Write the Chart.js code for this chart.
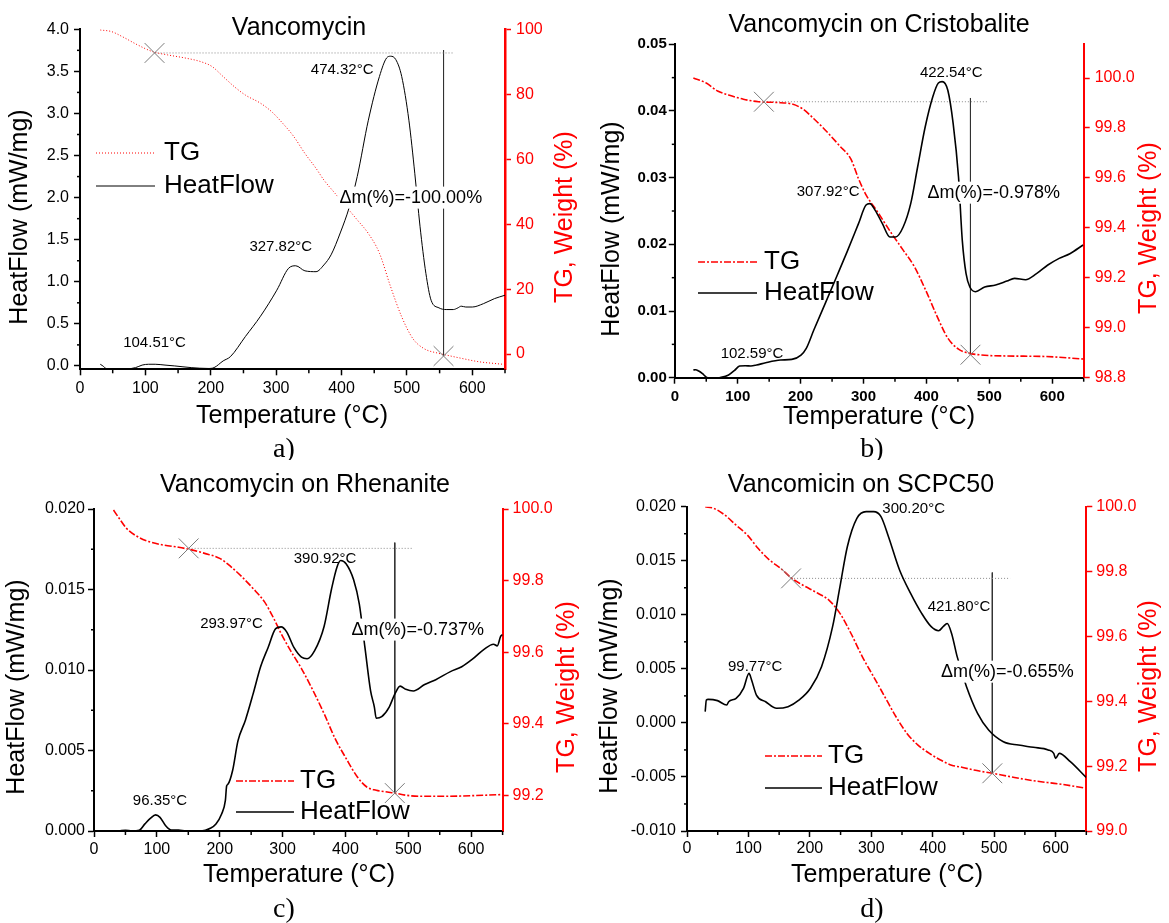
<!DOCTYPE html>
<html><head><meta charset="utf-8">
<script src="https://cdn.jsdelivr.net/npm/chart.js@4"></script>
<style>
html,body{margin:0;padding:0;background:#fff;width:1169px;height:923px;overflow:hidden;position:relative}
canvas{position:absolute}
</style></head><body>
<canvas id="ca" width="580" height="460" style="left:0;top:0"></canvas>
<canvas id="cb" width="589" height="460" style="left:580px;top:0"></canvas>
<canvas id="cc" width="580" height="463" style="left:0;top:460px"></canvas>
<canvas id="cd" width="589" height="463" style="left:580px;top:460px"></canvas>
<script>
// ---------- DATA ----------
// a) Vancomycin
const aHfT = [31,35,40,60,85,95,105,115,130,145,170,196,205,219,230,253,276,301,319,330,344,361,373,384,398,412,424,441,458,469,475,483,492,503,512,520,529,537,549,560,571,578,583,590,600,617,634,650];
const aHfV = [0.02,0.0,-0.03,-0.04,-0.02,0.01,0.02,0.02,0.01,0.0,-0.02,-0.03,-0.02,0.06,0.11,0.35,0.59,0.9,1.16,1.19,1.13,1.12,1.2,1.32,1.58,1.89,2.25,2.92,3.44,3.66,3.68,3.64,3.44,2.92,2.29,1.66,1.1,0.78,0.69,0.67,0.67,0.69,0.71,0.70,0.70,0.74,0.8,0.84];
const aTgT = [31,48,65,88,111,134,162,185,202,219,236,253,276,293,310,327,344,361,373,390,407,424,441,458,475,492,509,526,549,560,583,611,634,650];
const aTgV = [100,99.5,97.9,95.4,93.3,92.3,91.3,90.2,88.7,85.6,82.5,79.9,77.4,74.8,71.2,67.1,61.9,57.3,53.7,49.6,45.5,41.4,37.2,31.1,20.8,11.5,4.8,1.7,0.2,-0.3,-1.3,-2.4,-2.9,-3.2];
const aPeaks = [474.32, 327.82, 104.51];
const aStepT = [114, 556];
const aStepW = [92.9, -0.6];
const aDm = '-100.00';

// b) Vancomycin on Cristobalite
const bHfT = [29.5,33,38,44,50,56,71,85.5,95,103,112,121,130,144.5,168,186,200.6,209,221,239,257,274,292,304,310,318.6,330,342,351,363,375,386,398,410,419,425,434,442.5,451,457,463,469,478,492.6,510,528,540,557.5,575,593,611,628,649];
const bHfV = [0.00115,0.0012,0.001,0.0006,0.0001,-0.0002,0.0,0.0004,0.0011,0.00175,0.0018,0.00175,0.0019,0.00225,0.00265,0.00275,0.0034,0.0044,0.00715,0.0111,0.0151,0.0189,0.0231,0.0259,0.0261,0.0251,0.0231,0.0211,0.0211,0.0226,0.0261,0.0316,0.0376,0.0421,0.0442,0.0444,0.0431,0.0381,0.0301,0.0206,0.0156,0.0136,0.0129,0.0136,0.0139,0.0145,0.0149,0.0147,0.0156,0.0169,0.0179,0.0186,0.0199];
const bTgT = [29.5,50,68,85.5,109,133,162,186,203.5,221,239,262.5,280,292,304,321.5,345,363,380.5,398,416,433.6,451,463,487,528,587,649];
const bTgV = [100.0,99.98,99.948,99.932,99.915,99.905,99.902,99.896,99.876,99.837,99.792,99.727,99.675,99.597,99.532,99.467,99.376,99.311,99.246,99.155,99.051,98.96,98.914,98.901,98.891,98.887,98.885,98.875];
const bPeaks = [422.54, 307.92, 102.59];
const bStepT = [141.6, 470];
const bStepW = [99.905, 98.892];
const bDm = '-0.978';

// c) Vancomycin on Rhenanite
const cHfT = [31,40,50,60,72,81,90,98,105,114,123,134.6,146,170,185,194,203,209,211,213,220.5,229,241,253,265,277,289,297.6,306.5,318,330,339,351,366,377.7,386.6,392.5,401,413,422,431,440,446,449,457.7,469.6,478.5,487,496,508,526,543.7,567,585,603,621,635.6,641.5,647,650];
const cHfV = [0.0,0.00002,0.00005,0.0,0.00004,0.00044,0.0008,0.001,0.00085,0.00033,0.00006,0.00006,0.0,0.0,0.00017,0.00044,0.00106,0.0019,0.0028,0.0029,0.00376,0.0056,0.0069,0.0085,0.0102,0.0114,0.01257,0.01268,0.01237,0.0114,0.0108,0.0107,0.0112,0.0127,0.0150,0.0164,0.0168,0.0166,0.0156,0.0141,0.0114,0.0087,0.0077,0.0070,0.0071,0.0077,0.0085,0.009,0.0088,0.0087,0.0091,0.0094,0.0099,0.0102,0.0107,0.0113,0.0116,0.0115,0.0121,0.0122];
const cTgT = [31,40,51.6,69,87,111,134.6,152,176,200,217.6,235,253,271,286,297.6,312,330,348,366,383.6,401,419,434,449,466.6,478.5,496,520,561,621,650];
const cTgV = [99.997,99.974,99.946,99.923,99.909,99.899,99.893,99.887,99.876,99.862,99.839,99.811,99.778,99.741,99.694,99.652,99.606,99.554,99.494,99.428,99.358,99.303,99.251,99.223,99.214,99.209,99.206,99.2,99.197,99.197,99.2,99.202];
const cPeaks = [390.92, 293.97, 96.35];
const cStepT = [150.6, 478.5];
const cStepW = [99.89, 99.206];
const cDm = '-0.737';

// d) Vancomicin on SCPC50
const dHfT = [29.6,31.5,34.5,49.6,64.7,67.8,79.9,92,101,105,113,128,146,164.5,182.7,201,219,237,249,261,276.5,291.6,303.7,315.8,328,346,364,382,397.5,409.6,417,423.5,430.7,439.8,455,473,491,515,539.6,563.8,588,597,600,606,624,649.7];
const dHfV = [0.00104,0.00212,0.00218,0.00206,0.00165,0.00196,0.00227,0.0032,0.00458,0.004,0.00258,0.00196,0.00135,0.0015,0.00212,0.0032,0.0052,0.0089,0.0126,0.0163,0.01892,0.01954,0.01954,0.01908,0.01722,0.01414,0.01198,0.01013,0.0089,0.00853,0.0089,0.0092,0.00828,0.00613,0.00335,0.00088,-0.00066,-0.00174,-0.00205,-0.00226,-0.0025,-0.00282,-0.00328,-0.00282,-0.00359,-0.00504];
const dTgT = [29.6,43.6,61.7,80,98,116,134,152.5,170.6,188.7,213,231,249,267,285.5,303.7,322,340,358,376,394,412.6,430.7,449,467,497,527.5,564,606,649.7];
const dTgV = [100.0,99.995,99.974,99.943,99.913,99.871,99.836,99.81,99.779,99.758,99.733,99.712,99.671,99.609,99.537,99.476,99.414,99.353,99.301,99.265,99.24,99.219,99.203,99.196,99.188,99.178,99.167,99.155,99.145,99.132];
const dPeaks = [300.20, 421.80, 99.77];
const dStepT = [169.4, 497];
const dStepW = [99.779, 99.178];
const dDm = '-0.655';

// ---------- RENDERING ----------
const RED = '#ff0000';
const SANS = "'Liberation Sans', Arial, sans-serif";
const SERIF = "'Liberation Serif', 'Times New Roman', serif";
function pts(xs, ys){ return xs.map((x,i)=>({x:x, y:ys[i]})); }
function isMajor(v, m){ const r = v/m; return Math.abs(r - Math.round(r)) < 1e-6; }
function txt(ctx, s, x, y, font, color, align, base, rot){
  ctx.save(); ctx.translate(x,y); if (rot) ctx.rotate(rot);
  ctx.font = font; ctx.fillStyle = color; ctx.textAlign = align||'center'; ctx.textBaseline = base||'middle';
  ctx.fillText(s,0,0); ctx.restore();
}

function panel(L){
  const tickFontL = L.boldTicks ? {family:SANS, size:15, weight:'bold'} : {family:SANS, size:16};
  const tickFontR = {family:SANS, size:16};
  const tgDash = L.thin ? [1,2] : [7,2,2,2];
  const lw = L.thin ? 1 : 1.6;

  const decor = {
    id:'decor',
    afterDraw(chart){
      const ctx = chart.ctx, ca = chart.chartArea;
      const sx = chart.scales.x, sy = chart.scales.y;
      // minor ticks (x and left axis only)
      [['x','#000'],['y','#000']].forEach(([id,col])=>{
        const s = chart.scales[id];
        ctx.save(); ctx.strokeStyle = col; ctx.lineWidth = 1.5;
        s.ticks.forEach(t=>{
          if (t.label !== '') return;
          const p = s.getPixelForValue(t.value);
          ctx.beginPath();
          if (id==='x'){ ctx.moveTo(p, ca.bottom); ctx.lineTo(p, ca.bottom+4); }
          else { ctx.moveTo(ca.left, p); ctx.lineTo(ca.left-3, p); }
          ctx.stroke();
        });
        ctx.restore();
      });
      // peak labels
      L.peaks.forEach((t,i)=>{
        const [lx, ly] = L.peakPos[i];
        txt(ctx, t.toFixed(2)+'°C', sx.getPixelForValue(lx), sy.getPixelForValue(ly), '15px '+SANS, '#000');
      });
      // mass change label with white box
      const dmS = 'Δm(%)=' + L.dm + '%';
      ctx.save(); ctx.font = '18px '+SANS;
      const w = ctx.measureText(dmS).width;
      const dx = sx.getPixelForValue(L.dmPos[0]), dy = sy.getPixelForValue(L.dmPos[1]);
      ctx.fillStyle = '#fff'; ctx.fillRect(dx - w/2 - 2, dy - 11, w + 4, 22);
      ctx.restore();
      txt(ctx, dmS, dx, dy, '18px '+SANS, '#000');
      // legend
      const lg = L.legend;
      ctx.save();
      ctx.strokeStyle = RED; ctx.lineWidth = lw; ctx.setLineDash(tgDash);
      ctx.beginPath(); ctx.moveTo(lg.x0, lg.y1); ctx.lineTo(lg.x1, lg.y1); ctx.stroke();
      ctx.setLineDash([]); ctx.strokeStyle = '#000';
      ctx.beginPath(); ctx.moveTo(lg.x0, lg.y2); ctx.lineTo(lg.x1, lg.y2); ctx.stroke();
      ctx.restore();
      txt(ctx, 'TG', lg.tx, lg.y1, '26px '+SANS, '#000', 'left');
      txt(ctx, 'HeatFlow', lg.tx, lg.y2, '26px '+SANS, '#000', 'left');
      // titles
      txt(ctx, L.title, L.titlePos[0], L.titlePos[1], '25px '+SANS, '#000');
      txt(ctx, 'HeatFlow (mW/mg)', L.yTitle[0], L.yTitle[1], '25px '+SANS, '#000', 'center', 'middle', -Math.PI/2);
      txt(ctx, 'TG, Weight (%)', L.y2Title[0], L.y2Title[1], '25px '+SANS, RED, 'center', 'middle', -Math.PI/2);
      txt(ctx, 'Temperature (°C)', L.xTitle[0], L.xTitle[1], '25px '+SANS, '#000');
      txt(ctx, L.sub, L.subPos[0], L.subPos[1], '28px '+SERIF, '#000');
    }
  };

  new Chart(document.getElementById(L.id), {
    type:'line',
    data:{ datasets:[
      {label:'marks', data: pts(L.stepT, L.stepW), yAxisID:'y2', showLine:false, pointStyle:'crossRot', pointRadius:14, pointBorderColor:'#7a7a7a', pointBorderWidth:1, pointBackgroundColor:'rgba(0,0,0,0)'},
      {label:'HeatFlow', data: pts(L.hfT, L.hfV), yAxisID:'y', borderColor:'#000', borderWidth:lw, pointRadius:0, cubicInterpolationMode:'monotone', fill:false},
      {label:'TG', data: pts(L.tgT, L.tgV), yAxisID:'y2', borderColor:RED, borderWidth:lw, borderDash:tgDash, pointRadius:0, cubicInterpolationMode:'monotone', fill:false},
      {label:'ref', data: pts([L.stepT[0], L.refEnd], [L.stepW[0], L.stepW[0]]), yAxisID:'y2', borderColor:'#8a8a8a', borderWidth:1, borderDash:[1,2], pointRadius:0},
      {label:'vert', data: pts([L.stepT[1], L.stepT[1]], [L.vTop, L.stepW[1]]), yAxisID:'y2', borderColor:'#333', borderWidth:1, pointRadius:0}
    ]},
    options:{
      responsive:false, animation:false, devicePixelRatio:1,
      layout:{padding:{top:L.top, left:0, right:0, bottom:0}},
      plugins:{legend:{display:false}, tooltip:{enabled:false}},
      scales:{
        x:{type:'linear', position:'bottom', min:0, max:650,
          afterFit(s){ s.height = L.H - L.bottom; },
          ticks:{stepSize:50, includeBounds:false, maxTicksLimit:200, autoSkip:false, maxRotation:0,
            callback:v=> isMajor(v,100) ? String(Math.round(v)) : '', font:tickFontL, color:'#000', padding:L.xPad},
          grid:{drawOnChartArea:false, tickLength:6, tickWidth:1.5, tickColor:c=> (c.tick && !isMajor(c.tick.value,100)) ? 'rgba(0,0,0,0)' : '#000'},
          border:{color:'#000', width:2}},
        y:{type:'linear', position:'left', min:L.y[0], max:L.y[1],
          afterFit(s){ s.width = L.left; },
          ticks:{stepSize:L.y[3], includeBounds:false, maxTicksLimit:200, autoSkip:false,
            callback:v=> isMajor(v,L.y[2]) ? (Math.abs(v)<1e-12?0:v).toFixed(L.y[4]) : '', font:tickFontL, color:'#000', padding:L.yPad},
          grid:{drawOnChartArea:false, tickLength:6, tickWidth:1.5, tickColor:c=> (c.tick && !isMajor(c.tick.value,L.y[2])) ? 'rgba(0,0,0,0)' : '#000'},
          border:{color:'#000', width:2}},
        y2:{type:'linear', position:'right', min:L.y2[0], max:L.y2[1],
          afterFit(s){ s.width = L.W - L.right; },
          ticks:{stepSize:L.y2[2], includeBounds:false, maxTicksLimit:200, autoSkip:false,
            callback:v=> v.toFixed(L.y2[3]), font:tickFontR, color:RED, padding:L.y2Pad},
          grid:{drawOnChartArea:false, tickLength:6, tickWidth:1.5, tickColor:RED},
          border:{color:RED, width:L.thin ? 2.5 : 2}}
      }
    },
    plugins:[decor]
  });
}

panel({id:'ca', W:580, H:460, left:80, right:505, top:29.3, bottom:369.3, thin:true, boldTicks:false,
  hfT:aHfT, hfV:aHfV, tgT:aTgT, tgV:aTgV, stepT:aStepT, stepW:aStepW, refEnd:572, vTop:93.8,
  y:[-0.04, 4.0, 0.5, 0.25, 1], y2:[-4.7, 100.2, 20, 0], xPad:4, yPad:5, y2Pad:5,
  peaks:aPeaks, peakPos:[[401,3.52],[307,1.41],[114,0.28]], dm:aDm, dmPos:[506,2.0],
  legend:{x0:96, x1:155, tx:164, y1:153, y2:186},
  title:'Vancomycin', titlePos:[299,28], yTitle:[20,217], y2Title:[565,217], xTitle:[292,416], sub:'a)', subPos:[284,450]});

panel({id:'cb', W:589, H:460, left:94.8, right:503.7, top:44.3, bottom:377.7, thin:false, boldTicks:true,
  hfT:bHfT, hfV:bHfV, tgT:bTgT, tgV:bTgV, stepT:bStepT, stepW:bStepW, refEnd:498.5, vTop:99.92,
  y:[0, 0.05, 0.01, 0.005, 2], y2:[98.8, 100.135, 0.2, 1], xPad:4, yPad:2, y2Pad:5,
  peaks:bPeaks, peakPos:[[439.5,0.04575],[243.7,0.0279],[122.7,0.00365]], dm:bDm, dmPos:[507,0.02775],
  legend:{x0:118, x1:177, tx:184, y1:262, y2:293},
  title:'Vancomycin on Cristobalite', titlePos:[299,25], yTitle:[32,229], y2Title:[569,228], xTitle:[299,417], sub:'b)', subPos:[292,450]});

panel({id:'cc', W:580, H:463, left:94, right:502.6, top:49, bottom:371, thin:false, boldTicks:false,
  hfT:cHfT, hfV:cHfV, tgT:cTgT, tgV:cTgV, stepT:cStepT, stepW:cStepW, refEnd:508, vTop:99.906,
  y:[0, 0.02, 0.005, 0.0025, 3], y2:[99.1, 100.0, 0.2, 1], xPad:3, yPad:3, y2Pad:4,
  peaks:cPeaks, peakPos:[[367.6,0.01689],[218.8,0.01284],[105,0.00185]], dm:cDm, dmPos:[515,0.01251],
  legend:{x0:236, x1:294, tx:300, y1:321, y2:352},
  title:'Vancomycin on Rhenanite', titlePos:[305,25], yTitle:[17,227], y2Title:[567,227], xTitle:[299,415], sub:'c)', subPos:[284,450]});

panel({id:'cd', W:589, H:463, left:107, right:506.3, top:46.7, bottom:371, thin:false, boldTicks:false,
  hfT:dHfT, hfV:dHfV, tgT:dTgT, tgV:dTgV, stepT:dStepT, stepW:dStepW, refEnd:526, vTop:99.797,
  y:[-0.01, 0.02, 0.005, 0.0025, 3], y2:[99.0, 100.0, 0.2, 1], xPad:2, yPad:5, y2Pad:4,
  peaks:dPeaks, peakPos:[[369,0.01978],[442.8,0.01075],[111,0.0052]], dm:dDm, dmPos:[521.5,0.00474],
  legend:{x0:185, x1:242, tx:248, y1:296, y2:328},
  title:'Vancomicin on SCPC50', titlePos:[281,25], yTitle:[30,226], y2Title:[569,226], xTitle:[307,415], sub:'d)', subPos:[292,450]});
</script>
</body></html>
